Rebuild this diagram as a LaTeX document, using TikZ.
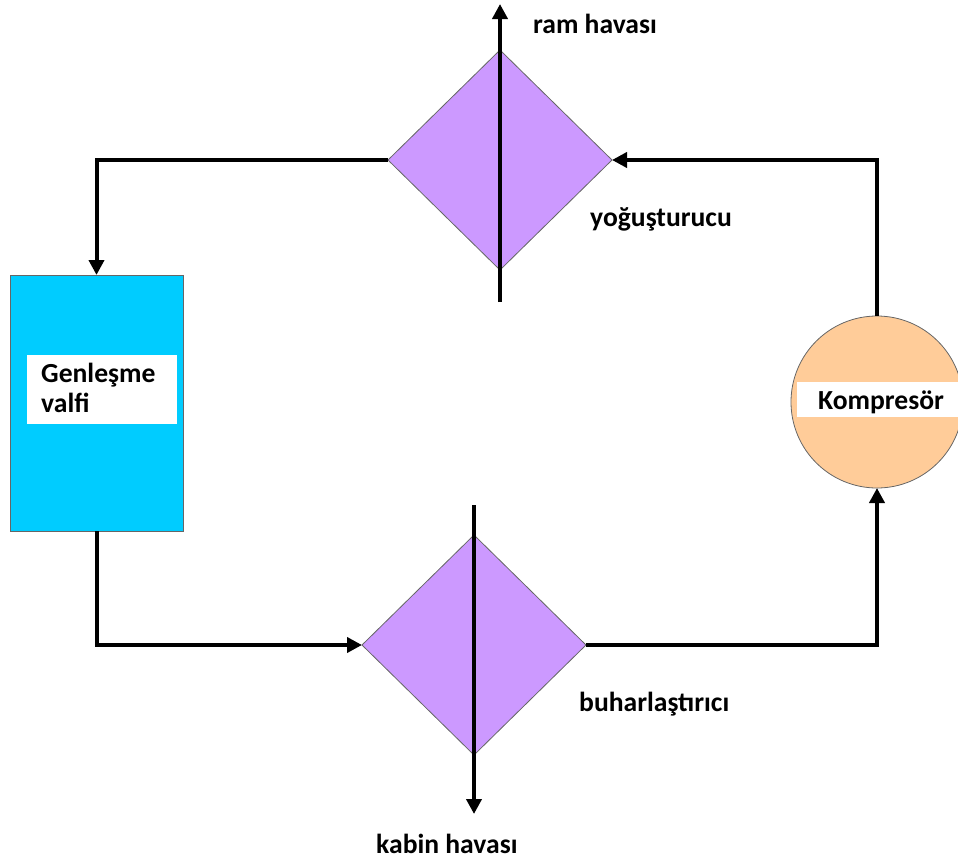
\documentclass[tikz,border=0pt]{standalone}
\usepackage{fontspec}
\setmainfont{Carlito}
\usetikzlibrary{shapes.geometric,arrows.meta}
\definecolor{hx}{HTML}{CC99FF}
\definecolor{valvec}{HTML}{00CCFF}
\definecolor{compc}{HTML}{FFCC99}
\begin{document}
\begin{tikzpicture}[x=1pt,y=-1pt,
  pipe/.style={line width=4pt,black},
  flow/.style={pipe,-{Triangle[length=15pt,width=15pt]}},
  hexch/.style={diamond,shape aspect=1,fill=hx,draw=black!60,line width=0.8pt,inner sep=0pt,outer sep=0pt,minimum width=224pt,minimum height=220pt},
  lbl/.style={font=\fontsize{27.6}{33}\selectfont\bfseries,inner sep=0pt,anchor=base west}
]
\useasboundingbox (0,0) rectangle (958,862);
% components
\node[hexch] (cond) at (500,160) {};
\node[hexch] (evap) at (474,645) {};
\node[rectangle,fill=valvec,draw=black!60,line width=0.8pt,minimum width=173pt,minimum height=256pt,inner sep=0pt,outer sep=0pt] (valve) at (96.5,403) {};
\node[circle,fill=compc,draw=black!60,line width=0.8pt,minimum size=172pt,inner sep=0pt,outer sep=0pt] (comp) at (877,402) {};
% white label patches
\fill[white] (27,355) rectangle (177,424);
\fill[white] (797,382) rectangle (962,417);
% air lines
\coordinate (ramS) at (500,302);
\coordinate (ramE) at (500,4);
\coordinate (kabS) at (474,505);
\coordinate (kabE) at (474,814);
\draw[flow] (ramS) -- (ramE);
\draw[flow] (kabS) -- (kabE);
% refrigerant loop
\draw[flow] (cond.west) -| (valve.north);
\draw[flow] (valve.south) |- (evap.west);
\draw[flow] (evap.east) -| (comp.south);
\draw[flow] (comp.north) |- (cond.east);
% labels
\node[lbl] (tram) at (533,33) {ram havası};
\node[lbl] (tcond) at (590,226) {yoğuşturucu};
\node[lbl] (tevap) at (579,711) {buharlaştırıcı};
\node[lbl] (tkab) at (376,853) {kabin havası};
\node[lbl] (tval1) at (41,382) {Genleşme};
\node[lbl] (tval2) at (41,412) {valfi};
\node[lbl] (tcomp) at (818,409) {Kompresör};
\end{tikzpicture}
\end{document}
